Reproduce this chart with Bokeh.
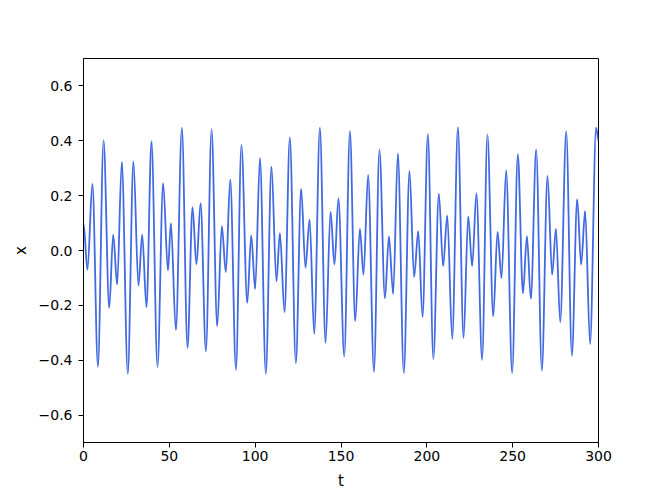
import numpy as np
from bokeh.plotting import figure
from bokeh.models import Range1d, FixedTicker, ColumnDataSource
from bokeh.embed import file_html
from bokeh.resources import INLINE

# successive turning points of x(t)
t_points = [0.0, 2.3, 5.2, 8.4, 11.7, 15.0, 17.3, 19.6, 22.3, 25.8, 29.1, 32.0, 34.2, 36.7,
            39.6, 43.1, 46.4, 49.2, 50.9, 53.8, 57.3, 60.6, 63.5, 65.8, 68.2, 71.3, 74.6,
            77.9, 80.6, 82.9, 85.5, 88.8, 92.0, 95.4, 97.7, 100.0, 102.8, 106.2, 109.5,
            112.4, 114.4, 117.1, 120.2, 123.7, 126.8, 129.3, 131.7, 134.4, 137.7, 141.0,
            143.9, 146.2, 148.5, 151.9, 155.2, 158.3, 161.0, 163.1, 165.8, 169.2, 172.4,
            175.6, 177.9, 180.4, 183.1, 186.6, 189.9, 192.6, 195.0, 197.5, 200.6, 203.8,
            207.0, 209.5, 211.9, 214.8, 218.1, 221.4, 224.1, 226.4, 228.9, 232.2, 235.3,
            238.7, 241.2, 243.5, 246.2, 249.7, 253.0, 256.0, 258.3, 260.6, 263.7, 267.0,
            270.3, 273.0, 275.2, 277.7, 281.2, 284.5, 287.6, 289.9, 292.2, 295.1, 298.6,
            300.0]
x_points = [0.100, -0.071, 0.244, -0.424, 0.402, -0.209, 0.058, -0.124, 0.323, -0.450,
            0.325, -0.128, 0.058, -0.207, 0.399, -0.426, 0.246, -0.073, 0.100, -0.290,
            0.448, -0.355, 0.158, -0.051, 0.173, -0.368, 0.442, -0.276, 0.089, -0.079,
            0.259, -0.435, 0.386, -0.191, 0.055, -0.140, 0.337, -0.450, 0.307, -0.113,
            0.063, -0.225, 0.412, -0.411, 0.225, -0.063, 0.113, -0.304, 0.448, -0.337,
            0.142, -0.052, 0.191, -0.386, 0.435, -0.258, 0.079, -0.088, 0.276, -0.442,
            0.369, -0.174, 0.051, -0.158, 0.353, -0.447, 0.290, -0.097, 0.071, -0.243,
            0.424, -0.396, 0.207, -0.057, 0.128, -0.323, 0.450, -0.320, 0.124, -0.057,
            0.209, -0.399, 0.423, -0.240, 0.069, -0.101, 0.292, -0.447, 0.351, -0.156,
            0.052, -0.176, 0.369, -0.438, 0.273, -0.088, 0.079, -0.262, 0.435, -0.383,
            0.187, -0.052, 0.144, -0.341, 0.448, 0.400]

x_ticks = [0, 50, 100, 150, 200, 250, 300]
y_ticks = [-0.6, -0.4, -0.2, 0.0, 0.2, 0.4, 0.6]
y_tick_labels = ["\u22120.6", "\u22120.4", "\u22120.2", "0.0", "0.2", "0.4", "0.6"]

t_arr = np.array(t_points)
x_arr = np.array(x_points)
dt = np.diff(t_arr)
seg = ColumnDataSource(dict(
    x0=t_arr[:-1], y0=x_arr[:-1], x1=t_arr[1:], y1=x_arr[1:],
    cx0=t_arr[:-1] + dt / 3.0, cy0=x_arr[:-1],
    cx1=t_arr[1:] - dt / 3.0, cy1=x_arr[1:],
))

FONT = "DejaVu Sans"

p = figure(frame_width=515, frame_height=384,
           min_border_left=83, min_border_right=50, min_border_top=58, min_border_bottom=47,
           x_range=Range1d(0, 300), y_range=Range1d(-0.7, 0.7),
           output_backend="svg", toolbar_location=None,
           background_fill_color="white", border_fill_color="white")

p.bezier(x0="x0", y0="y0", x1="x1", y1="y1", cx0="cx0", cy0="cy0", cx1="cx1", cy1="cy1",
         source=seg, line_color="#4169E1", line_width=1.8)

p.grid.visible = False
p.outline_line_color = "black"
p.outline_line_width = 1
p.outline_line_alpha = 1

p.xaxis.ticker = FixedTicker(ticks=x_ticks)
p.yaxis.ticker = FixedTicker(ticks=y_ticks)
p.yaxis.major_label_overrides = {v: s for v, s in zip(y_ticks, y_tick_labels)}
p.xaxis.axis_label = "t"
p.yaxis.axis_label = "x"

for ax in (p.xaxis[0], p.yaxis[0]):
    ax.axis_line_color = "black"
    ax.major_tick_line_color = "black"
    ax.minor_tick_line_color = None
    ax.major_tick_out = 5
    ax.major_tick_in = 0
    ax.major_label_text_font = FONT
    ax.major_label_text_font_size = "14px"
    ax.major_label_text_color = "black"
    ax.axis_label_text_font = FONT
    ax.axis_label_text_font_size = "15px"
    ax.axis_label_text_font_style = "normal"
    ax.axis_label_text_color = "black"

p.xaxis.major_label_standoff = 3
p.yaxis.major_label_standoff = 6
p.yaxis.axis_label_standoff = 6
p.xaxis.axis_label_standoff = 8

open("out.html", "w").write(file_html(p, INLINE))
